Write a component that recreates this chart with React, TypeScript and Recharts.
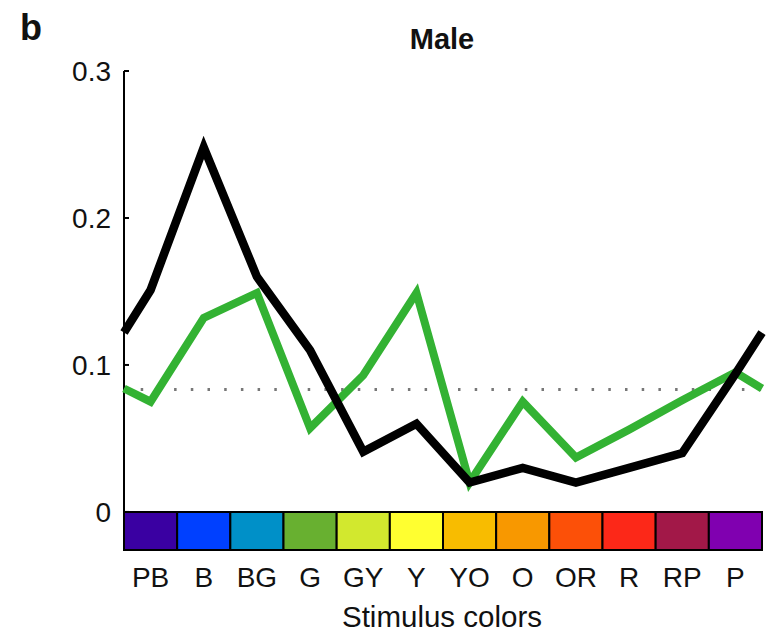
import { LineChart, Line, XAxis, YAxis, ReferenceArea, ReferenceLine } from 'recharts';

const categories = ['PB', 'B', 'BG', 'G', 'GY', 'Y', 'YO', 'O', 'OR', 'R', 'RP', 'P'];
const cellColors = ['#3a00a2', '#0040ff', '#0090c8', '#68b030', '#d2e82e', '#ffff30', '#f8bc00', '#f89800', '#fc5008', '#fc2818', '#a21848', '#8000b0'];
const blackValues = [0.151, 0.248, 0.16, 0.11, 0.041, 0.06, 0.02, 0.03, 0.02, 0.03, 0.04, 0.094];
const greenValues = [0.075, 0.132, 0.149, 0.057, 0.093, 0.149, 0.02, 0.075, 0.037, 0.056, 0.076, 0.095];
// values where the lines meet the left / right edge of the axes
const blackEdge = 0.122;
const greenEdge = 0.084;
const chanceLevel = 0.0833;
const yTicks = [0, 0.1, 0.2, 0.3];

const FONT = '"Liberation Sans", Arial, Helvetica, sans-serif';
const BAR_BOTTOM = -0.0259;

const data = [
  { x: 0, black: blackEdge, green: greenEdge },
  ...categories.map((c, i) => ({ x: i + 0.5, black: blackValues[i], green: greenValues[i] })),
  { x: categories.length, black: blackEdge, green: greenEdge },
];

const YTick = (props: any) => {
  const { y, payload } = props;
  return (
    <g>
      <line x1={116} x2={121} y1={y} y2={y} stroke="#000" strokeWidth={2} />
      <text x={103} y={y} dy="0.36em" textAnchor="end" fontSize={28} fill="#111" fontFamily={FONT}>
        {payload.value === 0 ? '0' : payload.value.toFixed(1)}
      </text>
    </g>
  );
};

const App = () => {
  return (
    <div style={{ position: 'relative', width: 775, height: 624 }}>
      <LineChart
        width={775}
        height={624}
        data={data}
        margin={{ top: 63, right: 21, left: 0, bottom: 42 }}
      >
        <XAxis
          type="number"
          dataKey="x"
          domain={[0, categories.length]}
          ticks={categories.map((c, i) => i + 0.5)}
          tickFormatter={(v: number) => categories[Math.floor(v)]}
          axisLine={false}
          tickLine={false}
          tickMargin={11}
          height={40}
          tick={{ fontSize: 28, fill: '#111', fontFamily: FONT }}
          interval={0}
        />
        <YAxis
          type="number"
          domain={[BAR_BOTTOM, 0.3]}
          ticks={yTicks}
          width={116}
          axisLine={false}
          tickLine={false}
          tick={<YTick />}
          interval={0}
        />
        {categories.map((c, i) => (
          <ReferenceArea
            key={c}
            x1={i}
            x2={i + 1}
            y1={BAR_BOTTOM}
            y2={0}
            fill={cellColors[i]}
            fillOpacity={1}
            stroke="#000"
            strokeWidth={2}
          />
        ))}
        <ReferenceLine
          segment={[{ x: 0, y: 0 }, { x: 0, y: 0.3 }]}
          stroke="#000"
          strokeWidth={2}
        />
        <ReferenceLine y={chanceLevel} stroke="#777" strokeWidth={3} strokeDasharray="2.5 14.2" />
        <Line
          type="linear"
          dataKey="green"
          stroke="#33b233"
          strokeWidth={8}
          dot={false}
          isAnimationActive={false}
        />
        <Line
          type="linear"
          dataKey="black"
          stroke="#000"
          strokeWidth={8.5}
          dot={false}
          isAnimationActive={false}
        />
      </LineChart>
      <svg width={775} height={624} style={{ position: 'absolute', left: 0, top: 0, pointerEvents: 'none' }}>
        <text x={12} y={32} fontSize={36} fontWeight="bold" fill="#111" fontFamily={FONT}>b</text>
        <text x={434} y={41} fontSize={29} fontWeight="bold" fill="#111" textAnchor="middle" fontFamily={FONT}>Male</text>
        <text x={434} y={619} fontSize={29.5} fill="#111" textAnchor="middle" fontFamily={FONT}>Stimulus colors</text>
      </svg>
    </div>
  );
};

export default App;
